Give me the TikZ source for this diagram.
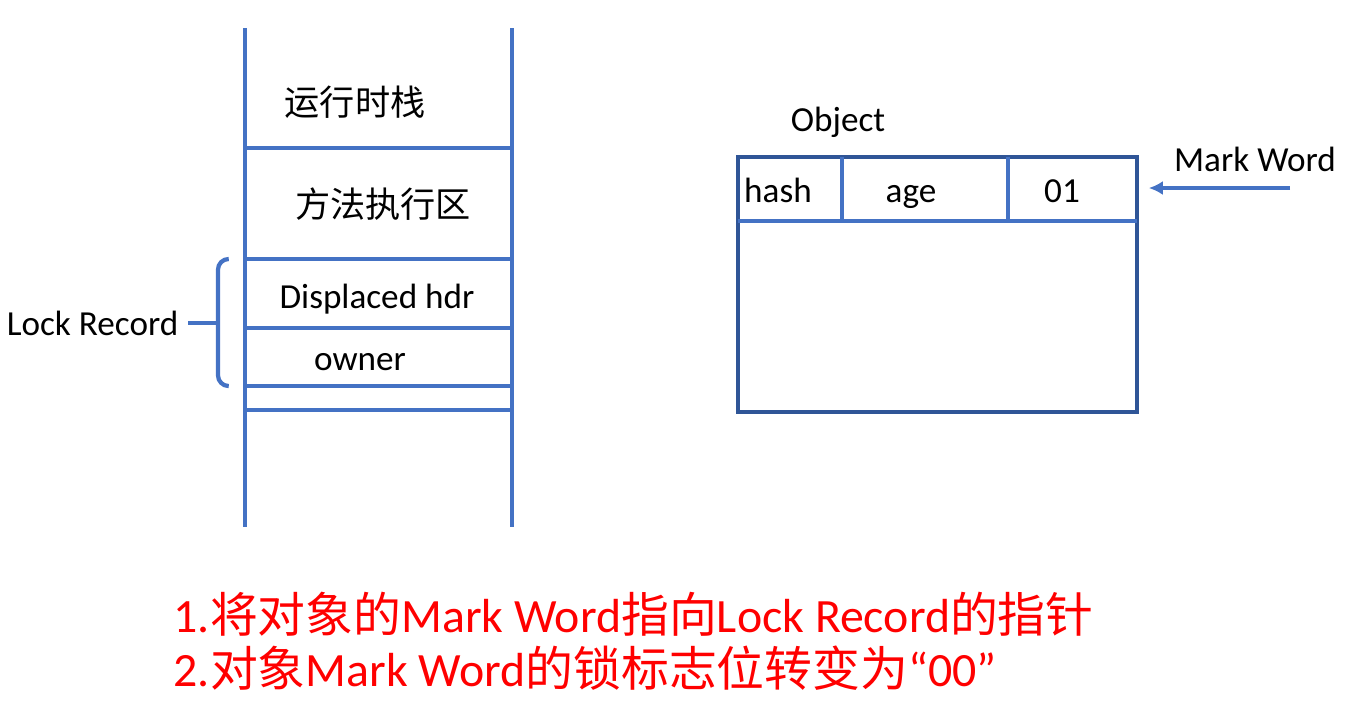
\documentclass[tikz,border=0pt]{standalone}
\usepackage{fontspec}
\setmainfont{Carlito}
\newfontfamily\cjk{Noto Sans CJK SC}
\usepackage{tikz}
\usetikzlibrary{positioning,arrows.meta,calc}
\definecolor{lineblue}{HTML}{4472C4}
\definecolor{boxblue}{HTML}{2F5597}

\begin{document}
\begin{tikzpicture}[
   x=0.01cm,y=-0.01cm,
   stk/.style={draw=lineblue,line width=1.2pt},
   objbox/.style={draw=boxblue,line width=1.2pt},
   lbl/.style={inner sep=0pt,text height=8.5pt,text depth=1.5pt,font=\fontsize{10}{12}\selectfont},
   note/.style={inner sep=0pt,anchor=west,text=red,font=\fontsize{13.6}{17}\selectfont},
   ptr/.style={-{Latex[length=4pt,width=4pt]},draw=lineblue,line width=0.9pt},
]
\useasboundingbox (0,0) rectangle (1349,711);

% runtime stack
\draw[stk] (245,28) -- (245,527);
\draw[stk] (512,28) -- (512,527);
\foreach \y in {148,259,328,386,410}
   \draw[stk] (245,\y) -- (512,\y);
\node[lbl] (stack) at (355,103) {\cjk 运行时栈};
\node[lbl] (method) at (383,205) {\cjk 方法执行区};
\node[lbl] (dhdr) at (377,296) {Displaced hdr};
\node[lbl] (owner) at (360,358) {owner};

% lock record brace
\draw[stk,rounded corners=3pt] (228,259) -| (218,386) -- (228,386);
\draw[stk] (188,323) -- (218,323);
\node[lbl,anchor=east] (lockrec) at (179,323) {Lock Record};

% object header
\node[lbl] (objname) at (838,119) {Object};
\draw[objbox] (738,157) rectangle (1137,412);
\node[inner sep=0pt,minimum width=3.99cm,minimum height=0.64cm] (mword) at (937.5,189) {};
\draw[stk] (738,221) -- (1137,221);
\draw[stk] (842,157) -- (842,221);
\draw[stk] (1008,157) -- (1008,221);
\node[lbl] (hash) at (778,190) {hash};
\node[lbl] (age) at (911,190) {age};
\node[lbl] (flag) at (1062,190) {01};

% mark word pointer
\node[lbl] (mwlabel) at (1255,159) {Mark Word};
\coordinate (mwtail) at (1290,188);
\draw[ptr,shorten >=0.11cm] (mwtail) -- (mwtail -| mword.east);

% steps
\node[note] (step1) at (173,614) {1.{\cjk 将对象的}Mark Word{\cjk 指向}Lock Record{\cjk 的指针}};
\node[note] (step2) at (173,668) {2.{\cjk 对象}Mark Word{\cjk 的锁标志位转变为}“00”};
\end{tikzpicture}
\end{document}
